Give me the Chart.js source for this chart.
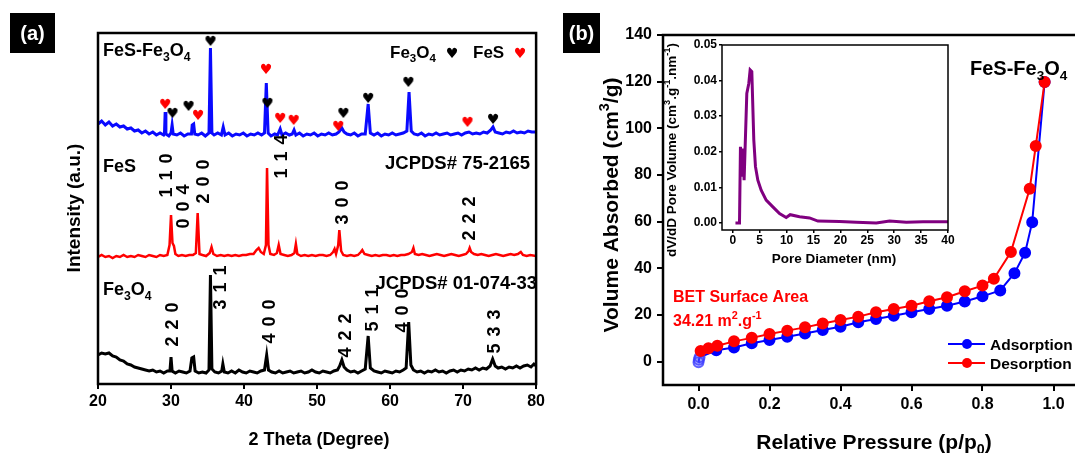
<!DOCTYPE html>
<html>
<head>
<meta charset="utf-8">
<script src="https://cdn.jsdelivr.net/npm/chart.js@4.4.1/dist/chart.umd.min.js"></script>
<style>
  html, body { margin: 0; padding: 0; background: #fff; }
  body { width: 1075px; height: 453px; overflow: hidden; position: relative; }
  canvas { position: absolute; }
  #xrd { left: 0; top: 0; width: 548px; height: 453px; }
  #bet { left: 548px; top: 0; width: 560px; height: 453px; }
  #pore { left: 650px; top: 30px; width: 315px; height: 240px; }
</style>
</head>
<body>
<canvas id="xrd" width="548" height="453"></canvas>
<canvas id="bet" width="560" height="453"></canvas>
<canvas id="pore" width="315" height="240"></canvas>
<script>
// --- (a) XRD : 2 theta (deg) / intensity (a.u., traces stacked as in the figure) ---
const xrdTicks = [20, 30, 40, 50, 60, 70, 80];

const compositePts = [
  [20.0,271],[20.5,274],[21.0,270],[21.5,273],[22.0,269],[22.5,271],[23.0,268],[23.5,269],[24.0,266],[24.5,267],
  [25.0,264],[25.5,265],[26.0,262],[26.5,264],[27.0,261],[27.5,263],[28.0,260],[28.5,262],[29.0,260],
  [29.1,261],[29.2,283],[29.3,261],[29.7,259],[30.0,262],[30.15,270],[30.3,261],[30.8,260],[31.3,262],[31.8,259],
  [32.3,261],[32.8,261],[32.9,270],[33.1,271],[33.25,261],[33.7,260],[34.2,262],[34.7,259],[35.2,262],[35.4,347],
  [35.6,262],[35.9,260],[36.4,262],[36.9,260],[37.15,268],[37.4,260],[37.9,262],[38.4,259],[38.9,261],[39.4,260],
  [39.9,262],[40.4,259],[40.9,261],[41.4,260],[41.9,262],[42.4,260],[42.8,262],[43.05,312],[43.3,262],[43.7,259],
  [44.2,261],[44.6,260],[44.95,266],[45.2,260],[45.7,262],[46.2,260],[46.6,261],[46.85,265],[47.1,260],[47.6,262],
  [48.1,259],[48.6,261],[49.1,260],[49.6,262],[50.1,259],[50.6,261],[51.1,260],[51.6,262],[52.1,260],[52.6,261],
  [53.0,263],[53.4,267],[53.7,263],[54.1,261],[54.6,260],[55.1,262],[55.6,259],[56.1,261],[56.6,261],[57.0,291],
  [57.3,262],[57.8,260],[58.3,262],[58.8,259],[59.3,261],[59.8,260],[60.3,262],[60.8,260],[61.3,261],[61.8,262],
  [62.3,264],[62.6,303],[62.9,264],[63.3,261],[63.8,260],[64.3,262],[64.8,259],[65.3,261],[65.8,260],[66.3,262],
  [66.8,260],[67.3,261],[67.8,262],[68.3,260],[68.8,261],[69.3,262],[69.8,260],[70.3,262],[70.8,263],[71.3,261],
  [71.8,262],[72.3,261],[72.8,263],[73.3,262],[73.8,265],[74.1,268],[74.4,263],[74.9,262],[75.4,261],[75.9,263],
  [76.4,262],[76.9,264],[77.4,262],[77.9,263],[78.4,262],[78.9,264],[79.4,263],[80.0,263]
];

const fesPts = [
  [20,138],[20.5,140],[21,138],[21.5,139],[22,137],[22.5,139],[23,138],[23.5,140],[24,138],[24.5,139],
  [25,138],[25.5,140],[26,139],[26.5,138],[27,140],[27.5,139],[28,138],[28.5,140],[29,139],[29.5,140],
  [29.8,150],[30.0,180],[30.2,152],[30.4,149],[30.6,141],[31.0,139],[31.5,140],[32,139],[32.5,140],[33,140],
  [33.4,142],[33.65,182],[33.9,141],[34.3,140],[34.8,139],[35.3,142],[35.55,148],[35.8,141],[36.3,139],[36.8,140],
  [37.3,139],[37.8,140],[38.3,139],[38.8,140],[39.3,139],[39.8,140],[40.3,140],[40.8,141],[41.3,141],[41.7,145],
  [42.0,147],[42.3,143],[42.7,141],[43.0,150],[43.15,227],[43.35,150],[43.6,141],[44.1,140],[44.5,142],[44.75,150],
  [45.0,141],[45.5,140],[46.0,139],[46.5,140],[46.9,142],[47.1,151],[47.3,141],[47.8,139],[48.3,140],[48.8,139],
  [49.3,140],[49.8,139],[50.3,140],[50.8,140],[51.3,139],[51.8,140],[52.2,143],[52.4,146],[52.6,141],[52.9,150],
  [53.05,165],[53.3,144],[53.6,140],[54.1,139],[54.6,140],[55.1,139],[55.6,140],[56.0,143],[56.2,145],[56.5,141],
  [57,140],[57.5,139],[58,140],[58.5,139],[59,140],[59.5,140],[60,139],[60.5,140],[61,139],[61.5,140],
  [62,140],[62.5,141],[63.0,143],[63.2,147],[63.4,141],[63.9,140],[64.4,141],[64.9,140],[65.4,139],[65.9,140],
  [66.4,141],[66.9,140],[67.4,139],[67.9,140],[68.4,141],[68.9,140],[69.4,139],[69.9,140],[70.4,141],[70.75,144],
  [70.9,147],[71.1,143],[71.5,141],[72,140],[72.5,141],[73,140],[73.5,139],[74,140],[74.5,141],[75,140],
  [75.5,139],[76,140],[76.5,141],[77,140],[77.5,141],[77.9,143],[78.2,140],[78.7,139],[79.2,140],[80,139]
];

const magnetitePts = [
  [20,40],[20.5,42],[21,41],[21.5,42],[22,39],[22.5,38],[23,35],[23.5,34],[24,31],[24.5,30],
  [25,28],[25.5,27],[26,26],[26.5,25],[27,24],[27.5,25],[28,23],[28.5,24],[29,22],[29.5,24],
  [29.85,24],[30.0,38],[30.15,24],[30.6,22],[31.1,24],[31.6,23],[32.1,22],[32.6,24],[32.85,37],[33.1,38],
  [33.3,24],[33.8,22],[34.3,23],[34.8,22],[35.2,25],[35.4,120],[35.6,26],[36.0,23],[36.5,22],[36.95,24],
  [37.1,31],[37.3,23],[37.8,22],[38.3,24],[38.8,22],[39.3,25],[39.8,23],[40.3,22],[40.8,24],[41.3,23],
  [41.8,22],[42.3,24],[42.8,25],[43.1,40],[43.35,25],[43.8,23],[44.3,22],[44.8,24],[45.3,22],[45.8,23],
  [46.3,24],[46.8,22],[47.3,23],[47.8,24],[48.3,22],[48.8,23],[49.3,25],[49.8,23],[50.3,22],[50.8,24],
  [51.3,23],[51.8,22],[52.3,24],[52.8,25],[53.1,29],[53.4,35],[53.7,28],[54.1,25],[54.6,23],[55.1,24],
  [55.6,22],[56.1,24],[56.6,26],[57.0,59],[57.3,27],[57.8,24],[58.3,23],[58.8,22],[59.3,24],[59.8,23],
  [60.3,22],[60.8,24],[61.3,23],[61.8,25],[62.2,27],[62.55,73],[62.85,30],[63.2,25],[63.7,23],[64.2,24],
  [64.7,22],[65.2,24],[65.7,23],[66.2,25],[66.7,23],[67.2,24],[67.7,22],[68.2,24],[68.7,25],[69.2,23],
  [69.7,25],[70.2,24],[70.7,26],[71.2,25],[71.7,27],[72.2,25],[72.7,27],[73.2,26],[73.7,29],[74.05,36],
  [74.4,29],[74.8,27],[75.3,28],[75.8,26],[76.3,28],[76.8,27],[77.3,29],[77.8,27],[78.3,29],[78.8,30],
  [79.3,28],[79.7,31],[80,29]
];

// phase markers on the composite trace
const fe3o4Hearts = [[30.2,282],[32.4,289],[35.4,354],[43.2,292],[53.6,282],[57.0,297],[62.5,313],[74.1,276]];
const fesHearts = [[29.2,291],[33.7,280],[43.0,326],[44.95,277],[46.8,275],[52.9,269],[70.6,273]];

// hkl labels: text, 2theta, height
const fesHkl = [['1 1 0',29.2,220],['0 0 4',31.6,189],['2 0 0',34.3,214],['1 1 4',45.0,239],['3 0 0',53.3,193],['2 2 2',70.8,177]];
const fe3o4Hkl = [['2 2 0',30.1,71],['3 1 1',36.7,108],['4 0 0',43.3,74],['4 2 2',53.7,60],['5 1 1',57.5,86],['4 0 0',61.6,85],['5 3 3',74.1,64]];

// --- (b) N2 isotherm ---
const pressureTicks = [0, 0.2, 0.4, 0.6, 0.8, 1.0];
const volumeTicks = [0, 20, 40, 60, 80, 100, 120, 140];
const adsorptionPts = [
  [0.000,-0.3],[0.001,0.8],[0.003,1.9],[0.05,4.9],[0.10,6.1],[0.15,7.9],[0.20,9.3],[0.25,10.7],[0.30,12.1],
  [0.35,13.6],[0.40,15.0],[0.45,16.9],[0.50,18.3],[0.55,19.7],[0.60,21.2],[0.65,22.6],[0.70,24.0],[0.75,25.8],
  [0.80,28.0],[0.85,30.5],[0.89,37.9],[0.92,46.7],[0.94,59.8],[0.975,119.9]
];
const desorptionPts = [
  [0.975,119.9],[0.95,92.4],[0.933,74.1],[0.88,47.0],[0.832,35.5],[0.80,32.6],[0.75,30.2],[0.70,27.6],
  [0.65,25.9],[0.60,24.0],[0.55,22.6],[0.50,21.2],[0.45,19.3],[0.40,17.9],[0.35,16.4],[0.30,14.7],
  [0.25,13.3],[0.20,11.9],[0.15,10.2],[0.10,8.7],[0.053,6.8],[0.028,5.8],[0.006,4.6]
];

// --- inset : pore size distribution ---
const poreTicksX = [0, 5, 10, 15, 20, 25, 30, 35, 40];
const poreTicksY = [0, 0.01, 0.02, 0.03, 0.04, 0.05];
const porePts = [
  [0.5,0],[1.25,0],[1.43,0.0214],[1.68,0.013],[1.87,0.0209],[2.11,0.012],[2.61,0.0364],[2.98,0.0392],
  [3.23,0.043],[3.54,0.0425],[3.91,0.0233],[4.22,0.0158],[4.66,0.012],[5.28,0.0092],[6.21,0.0064],
  [7.45,0.0045],[8.69,0.0026],[9.93,0.0015],[10.67,0.0023],[12.41,0.0017],[14.27,0.0014],[15.82,0.0005],
  [19.85,0.0004],[22.95,0.0002],[26.67,0.0],[29.15,0.0005],[32.25,0.0002],[35.35,0.0003],[40,0.0003]
];

const FONT = "'Liberation Sans', Arial, Helvetica, sans-serif";
Chart.defaults.font.family = FONT;
Chart.defaults.font.weight = 'bold';
Chart.defaults.color = '#000';

const toXY = pts => pts.map(p => ({ x: p[0], y: p[1] }));

// texte avec indices/exposants: _{3} ^{2}
function drawLabel(ctx, str, x, y, o) {
  const size = o.size || 16;
  const small = size * 0.68;
  const segs = [];
  const re = /([_^])\{([^}]*)\}/g;
  let last = 0, m;
  while ((m = re.exec(str)) !== null) {
    if (m.index > last) segs.push({ t: str.slice(last, m.index), k: '' });
    segs.push({ t: m[2], k: m[1] });
    last = re.lastIndex;
  }
  if (last < str.length) segs.push({ t: str.slice(last), k: '' });
  ctx.save();
  ctx.letterSpacing = o.spacing || '0px';
  let total = 0;
  segs.forEach(s => {
    ctx.font = `bold ${s.k ? small : size}px ${FONT}`;
    s.w = ctx.measureText(s.t).width;
    total += s.w;
  });
  ctx.translate(x, y);
  if (o.rotate) ctx.rotate(o.rotate);
  ctx.fillStyle = o.color || '#000';
  ctx.textAlign = 'left';
  ctx.textBaseline = 'alphabetic';
  let cx = o.align === 'center' ? -total / 2 : o.align === 'right' ? -total : 0;
  const base = size * 0.36;
  segs.forEach(s => {
    ctx.font = `bold ${s.k ? small : size}px ${FONT}`;
    const dy = s.k === '_' ? size * 0.24 : s.k === '^' ? -size * 0.4 : 0;
    ctx.fillText(s.t, cx, base + dy);
    cx += s.w;
  });
  ctx.restore();
}

function heartIcon(color) {
  const c = document.createElement('canvas');
  c.width = 14; c.height = 14;
  const g = c.getContext('2d');
  g.fillStyle = color;
  g.font = "14px 'DejaVu Sans'";
  g.textAlign = 'center';
  g.textBaseline = 'middle';
  g.fillText('\u2665', 7, 8);
  return c;
}
const blackHeart = heartIcon('#000');
const redHeart = heartIcon('#ff0000');

function panelTag(ctx, txt, x, y, w, h) {
  ctx.save();
  ctx.fillStyle = '#000';
  ctx.fillRect(x, y, w, h);
  ctx.restore();
  drawLabel(ctx, txt, x + w / 2, y + h / 2, { size: 20, color: '#fff', align: 'center' });
}

const framePlugin = {
  id: 'frame',
  afterDatasetsDraw(chart, args, opts) {
    const { ctx, chartArea: a } = chart;
    ctx.save();
    ctx.strokeStyle = '#000';
    ctx.lineWidth = opts.width || 2;
    ctx.strokeRect(a.left, a.top, a.right - a.left, a.bottom - a.top);
    ctx.restore();
  }
};

function textPlugin(fn) {
  return { id: 'texts', afterDraw(chart) { fn(chart, chart.ctx); } };
}

function line(pts, color, width) {
  return {
    data: toXY(pts), showLine: true, borderColor: color, borderWidth: width,
    pointRadius: 0, tension: 0, fill: false
  };
}

function hearts(pts, icon) {
  return { data: toXY(pts), showLine: false, pointStyle: icon, pointRadius: 7 };
}

function axis(o) {
  return {
    type: 'linear', min: o.min, max: o.max,
    afterBuildTicks: s => { s.ticks = o.ticks ? o.ticks.map(v => ({ value: v })) : []; },
    afterFit: s => { if (o.width !== undefined) s.width = o.width; if (o.height !== undefined) s.height = o.height; },
    ticks: {
      display: !!o.ticks, padding: o.pad || 0, maxRotation: 0, autoSkip: false,
      font: { size: o.font || 16, weight: 'bold' }, color: '#000',
      callback: o.fmt || (v => v)
    },
    grid: {
      display: !!o.ticks, drawOnChartArea: false, drawTicks: true,
      tickLength: o.tick || 6, color: '#000', lineWidth: o.tickWidth || 2
    },
    border: { display: false }
  };
}

// ---------------- (a) ----------------
new Chart(document.getElementById('xrd'), {
  type: 'scatter',
  data: {
    datasets: [
      hearts(fe3o4Hearts, blackHeart),
      hearts(fesHearts, redHeart),
      line(compositePts, '#0a0aff', 3),
      line(fesPts, '#ff0000', 2.5),
      line(magnetitePts, '#000000', 3)
    ]
  },
  options: {
    responsive: false, animation: false, devicePixelRatio: 1,
    layout: { padding: { top: 33, right: 9, left: 0, bottom: 0 } },
    plugins: { legend: { display: false }, tooltip: { enabled: false }, frame: { width: 2.5 } },
    scales: {
      x: axis({ min: 20, max: 80, ticks: xrdTicks, height: 69, tick: 5, pad: 3 }),
      y: axis({ min: 11, max: 362, width: 98 })
    }
  },
  plugins: [framePlugin, textPlugin((chart, ctx) => {
    const sx = chart.scales.x, sy = chart.scales.y;
    fesHkl.concat(fe3o4Hkl).forEach(h => {
      drawLabel(ctx, h[0], sx.getPixelForValue(h[1]), sy.getPixelForValue(h[2]),
        { size: 18, align: 'center', rotate: -Math.PI / 2, spacing: '1px' });
    });
    drawLabel(ctx, 'FeS-Fe_{3}O_{4}', 103, 50, { size: 18 });
    drawLabel(ctx, 'Fe_{3}O_{4}', 390, 52, { size: 17 });
    ctx.drawImage(blackHeart, 445, 46);
    drawLabel(ctx, 'FeS', 473, 52, { size: 17 });
    ctx.drawImage(redHeart, 513, 46);
    drawLabel(ctx, 'FeS', 103, 166, { size: 18 });
    drawLabel(ctx, 'JCPDS# 75-2165', 530, 162, { size: 18.5, align: 'right' });
    drawLabel(ctx, 'Fe_{3}O_{4}', 103, 289, { size: 18 });
    drawLabel(ctx, 'JCPDS# 01-074-33', 537, 282, { size: 18.5, align: 'right' });
    drawLabel(ctx, 'Intensity (a.u.)', 73, 208, { size: 19, align: 'center', rotate: -Math.PI / 2 });
    drawLabel(ctx, '2 Theta (Degree)', 319, 439, { size: 18, align: 'center' });
    panelTag(ctx, '(a)', 10, 13, 45, 40);
  })]
});

// ---------------- (b) ----------------
new Chart(document.getElementById('bet'), {
  type: 'scatter',
  data: {
    datasets: [
      {
        data: toXY(desorptionPts), showLine: true, borderColor: '#ff0000', borderWidth: 2,
        pointRadius: 5, pointBackgroundColor: '#ff0000', pointBorderColor: '#ff0000', tension: 0
      },
      {
        data: toXY(adsorptionPts), showLine: true, borderColor: '#0000ff', borderWidth: 2,
        pointRadius: 5, tension: 0,
        pointBackgroundColor: adsorptionPts.map((p, i) => i < 3 ? 'rgba(80,80,255,0.25)' : '#0000ff'),
        pointBorderColor: adsorptionPts.map((p, i) => i < 3 ? 'rgba(60,60,255,0.8)' : '#0000ff')
      }
    ]
  },
  options: {
    responsive: false, animation: false, devicePixelRatio: 1,
    layout: { padding: { top: 35, right: 19, left: 0, bottom: 0 } },
    plugins: { legend: { display: false }, tooltip: { enabled: false }, frame: { width: 2.5 } },
    scales: {
      x: axis({ min: -0.1, max: 1.1, ticks: pressureTicks, height: 68, tick: 6, pad: 4, fmt: v => v.toFixed(1) }),
      y: axis({ min: -10, max: 140, ticks: volumeTicks, width: 115, tick: 6, pad: 5 })
    }
  },
  plugins: [framePlugin, textPlugin((chart, ctx) => {
    panelTag(ctx, '(b)', 15, 13, 37, 40);
    drawLabel(ctx, 'Volume Absorbed (cm^{3}/g)', 62, 205, { size: 21, align: 'center', rotate: -Math.PI / 2 });
    drawLabel(ctx, 'Relative Pressure (p/p_{0})', 326, 441, { size: 21, align: 'center' });
    drawLabel(ctx, 'FeS-Fe_{3}O_{4}', 422, 68, { size: 20 });
    drawLabel(ctx, 'BET Surface Area', 125, 296, { size: 16, color: '#ff0000' });
    drawLabel(ctx, '34.21 m^{2}.g^{-1}', 125, 320, { size: 16, color: '#ff0000' });
    [['Adsorption', '#0000ff', 344], ['Desorption', '#ff0000', 363]].forEach(l => {
      ctx.save();
      ctx.strokeStyle = l[1];
      ctx.fillStyle = l[1];
      ctx.lineWidth = 2;
      ctx.beginPath(); ctx.moveTo(400, l[2]); ctx.lineTo(437, l[2]); ctx.stroke();
      ctx.beginPath(); ctx.arc(419, l[2], 5, 0, Math.PI * 2); ctx.fill();
      ctx.restore();
      drawLabel(ctx, l[0], 442, l[2], { size: 15.5 });
    });
  })]
});

// ---------------- inset ----------------
new Chart(document.getElementById('pore'), {
  type: 'scatter',
  data: { datasets: [line(porePts, '#800080', 3)] },
  options: {
    responsive: false, animation: false, devicePixelRatio: 1,
    layout: { padding: { top: 15, right: 17, left: 0, bottom: 0 } },
    plugins: { legend: { display: false }, tooltip: { enabled: false }, frame: { width: 1.5 } },
    scales: {
      x: axis({ min: -2, max: 40, ticks: poreTicksX, height: 40, tick: 3, pad: 0, font: 12, tickWidth: 1.5 }),
      y: axis({ min: -0.002, max: 0.05, ticks: poreTicksY, width: 72, tick: 3, pad: 2, font: 12, tickWidth: 1.5, fmt: v => v.toFixed(2) })
    }
  },
  plugins: [framePlugin, textPlugin((chart, ctx) => {
    drawLabel(ctx, 'dV/dD Pore Volume (cm^{3}.g^{-1}.nm^{-1})', 21, 120, { size: 13.5, align: 'center', rotate: -Math.PI / 2 });
    drawLabel(ctx, 'Pore Diameter (nm)', 184, 228, { size: 13.5, align: 'center' });
  })]
});
</script>
</body>
</html>
